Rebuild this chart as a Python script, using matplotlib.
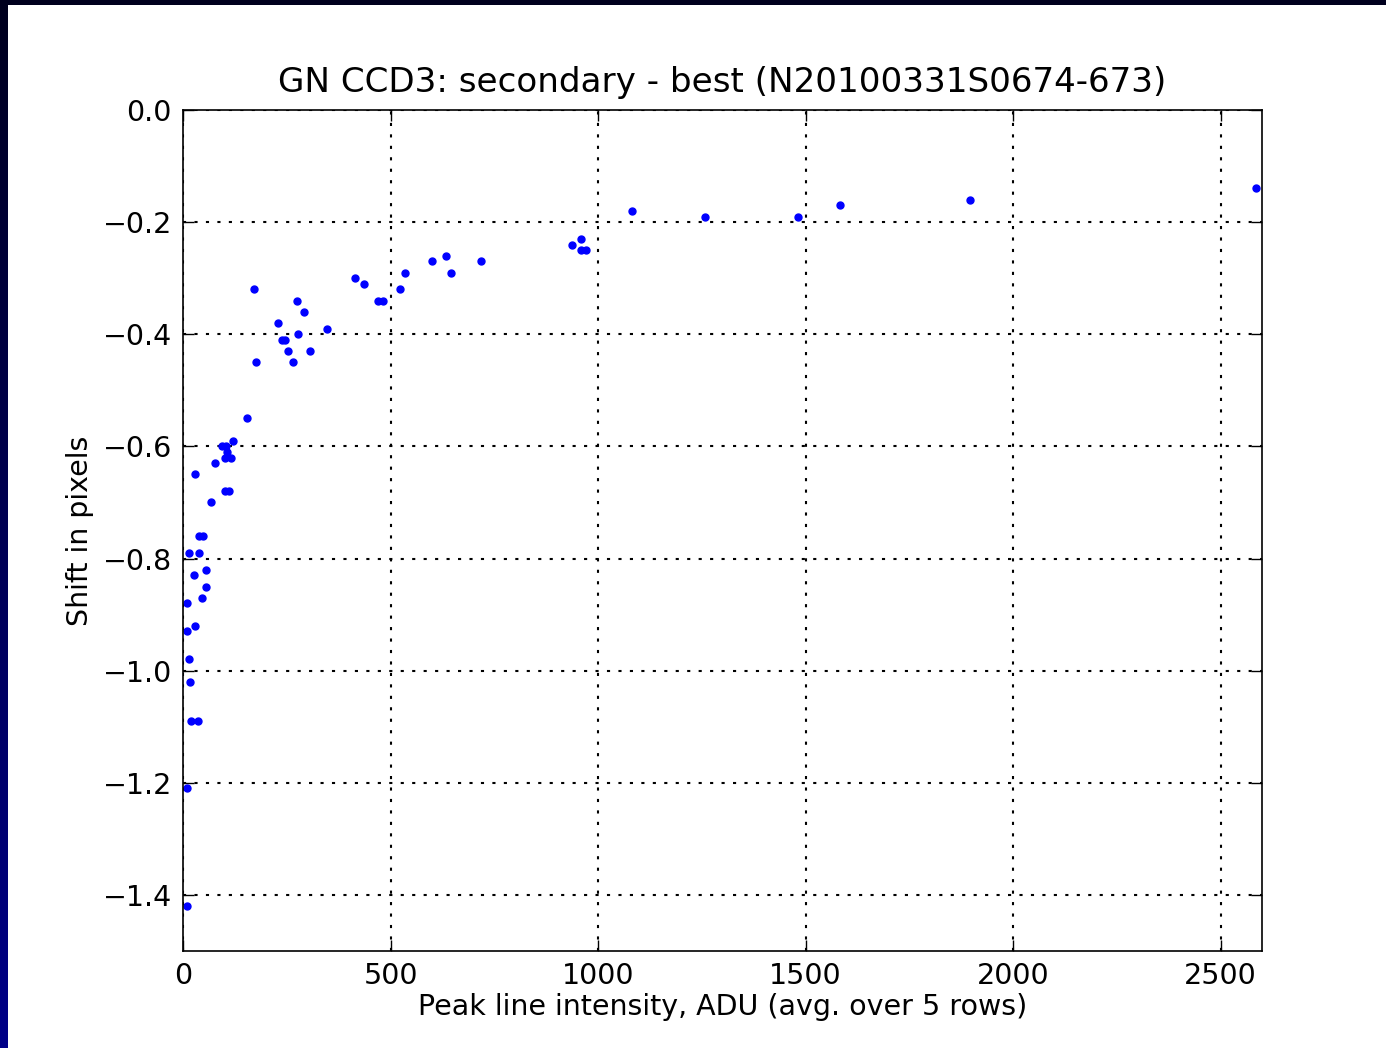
import numpy as np
import matplotlib
matplotlib.use('Agg')
import matplotlib.pyplot as plt
from matplotlib.colors import LinearSegmentedColormap
from matplotlib.patches import Rectangle

# peak intensity (ADU) and shift (pixels)
peak = [2586, 1897, 1582, 1483, 1257, 1083,
        960, 938, 958, 972,
        414, 435, 469, 481, 522, 535, 601, 633, 646, 717,
        170, 274, 291, 229, 347, 278, 238, 246, 253, 306, 175, 266,
        155, 121, 95, 103, 105, 116, 101, 77, 30, 101, 111, 67,
        39, 49, 14, 39, 26, 55, 55, 46, 10, 30, 10, 14, 18, 20, 35, 10, 10]
shift = [-0.14, -0.16, -0.17, -0.19, -0.19, -0.18,
         -0.23, -0.24, -0.25, -0.25,
         -0.30, -0.31, -0.34, -0.34, -0.32, -0.29, -0.27, -0.26, -0.29, -0.27,
         -0.32, -0.34, -0.36, -0.38, -0.39, -0.40, -0.41, -0.41, -0.43, -0.43, -0.45, -0.45,
         -0.55, -0.59, -0.60, -0.60, -0.61, -0.62, -0.62, -0.63, -0.65, -0.68, -0.68, -0.70,
         -0.76, -0.76, -0.79, -0.79, -0.83, -0.82, -0.85, -0.87, -0.88, -0.92, -0.93,
         -0.98, -1.02, -1.09, -1.09, -1.21, -1.42]

W, H = 1386, 1048
fig = plt.figure(figsize=(W/100, H/100), dpi=100)
fig.patch.set_facecolor('white')

# slide background: navy gradient showing at left and top edges
bg = fig.add_axes([0, 0, 1, 1], zorder=-10)
cmap = LinearSegmentedColormap.from_list('navy', ['#000088', '#00001e'])
bg.imshow(np.linspace(0, 1, 256).reshape(-1, 1), aspect='auto', cmap=cmap,
          extent=[0, 1, 0, 1], origin='lower')
bg.axis('off')
fig.patches.append(Rectangle((8/W, 0), 1, 1 - 5/H, transform=fig.transFigure,
                             facecolor='white', edgecolor='none', zorder=-5))

ax = fig.add_axes([183/W, 1 - 951/H, (1262-183)/W, (951-110)/H])
ax.plot(peak, shift, 'o', color='blue', markeredgecolor='blue', markersize=5)

ax.set_xlim(0, 2600)
ax.set_ylim(-1.5, 0.0)
ax.set_xticks([0, 500, 1000, 1500, 2000, 2500])
ax.set_yticks([0.0, -0.2, -0.4, -0.6, -0.8, -1.0, -1.2, -1.4])
ax.set_yticklabels(['0.0', '\u22120.2', '\u22120.4', '\u22120.6', '\u22120.8',
                    '\u22121.0', '\u22121.2', '\u22121.4'])
ax.grid(True, color='black', linestyle=(0, (1.5, 4)), linewidth=1.5)
ax.tick_params(direction='in', top=True, right=True, length=8, width=1,
               labelsize=20.5, pad=8)
for s in ax.spines.values():
    s.set_linewidth(1.2)

ax.set_title('GN CCD3: secondary - best (N20100331S0674-673)', fontsize=24.6, pad=13)
ax.set_xlabel('Peak line intensity, ADU (avg. over 5 rows)', fontsize=20.5, labelpad=2)
ax.set_ylabel('Shift in pixels', fontsize=20.5, labelpad=6)

fig.savefig('out.png', dpi=100)
